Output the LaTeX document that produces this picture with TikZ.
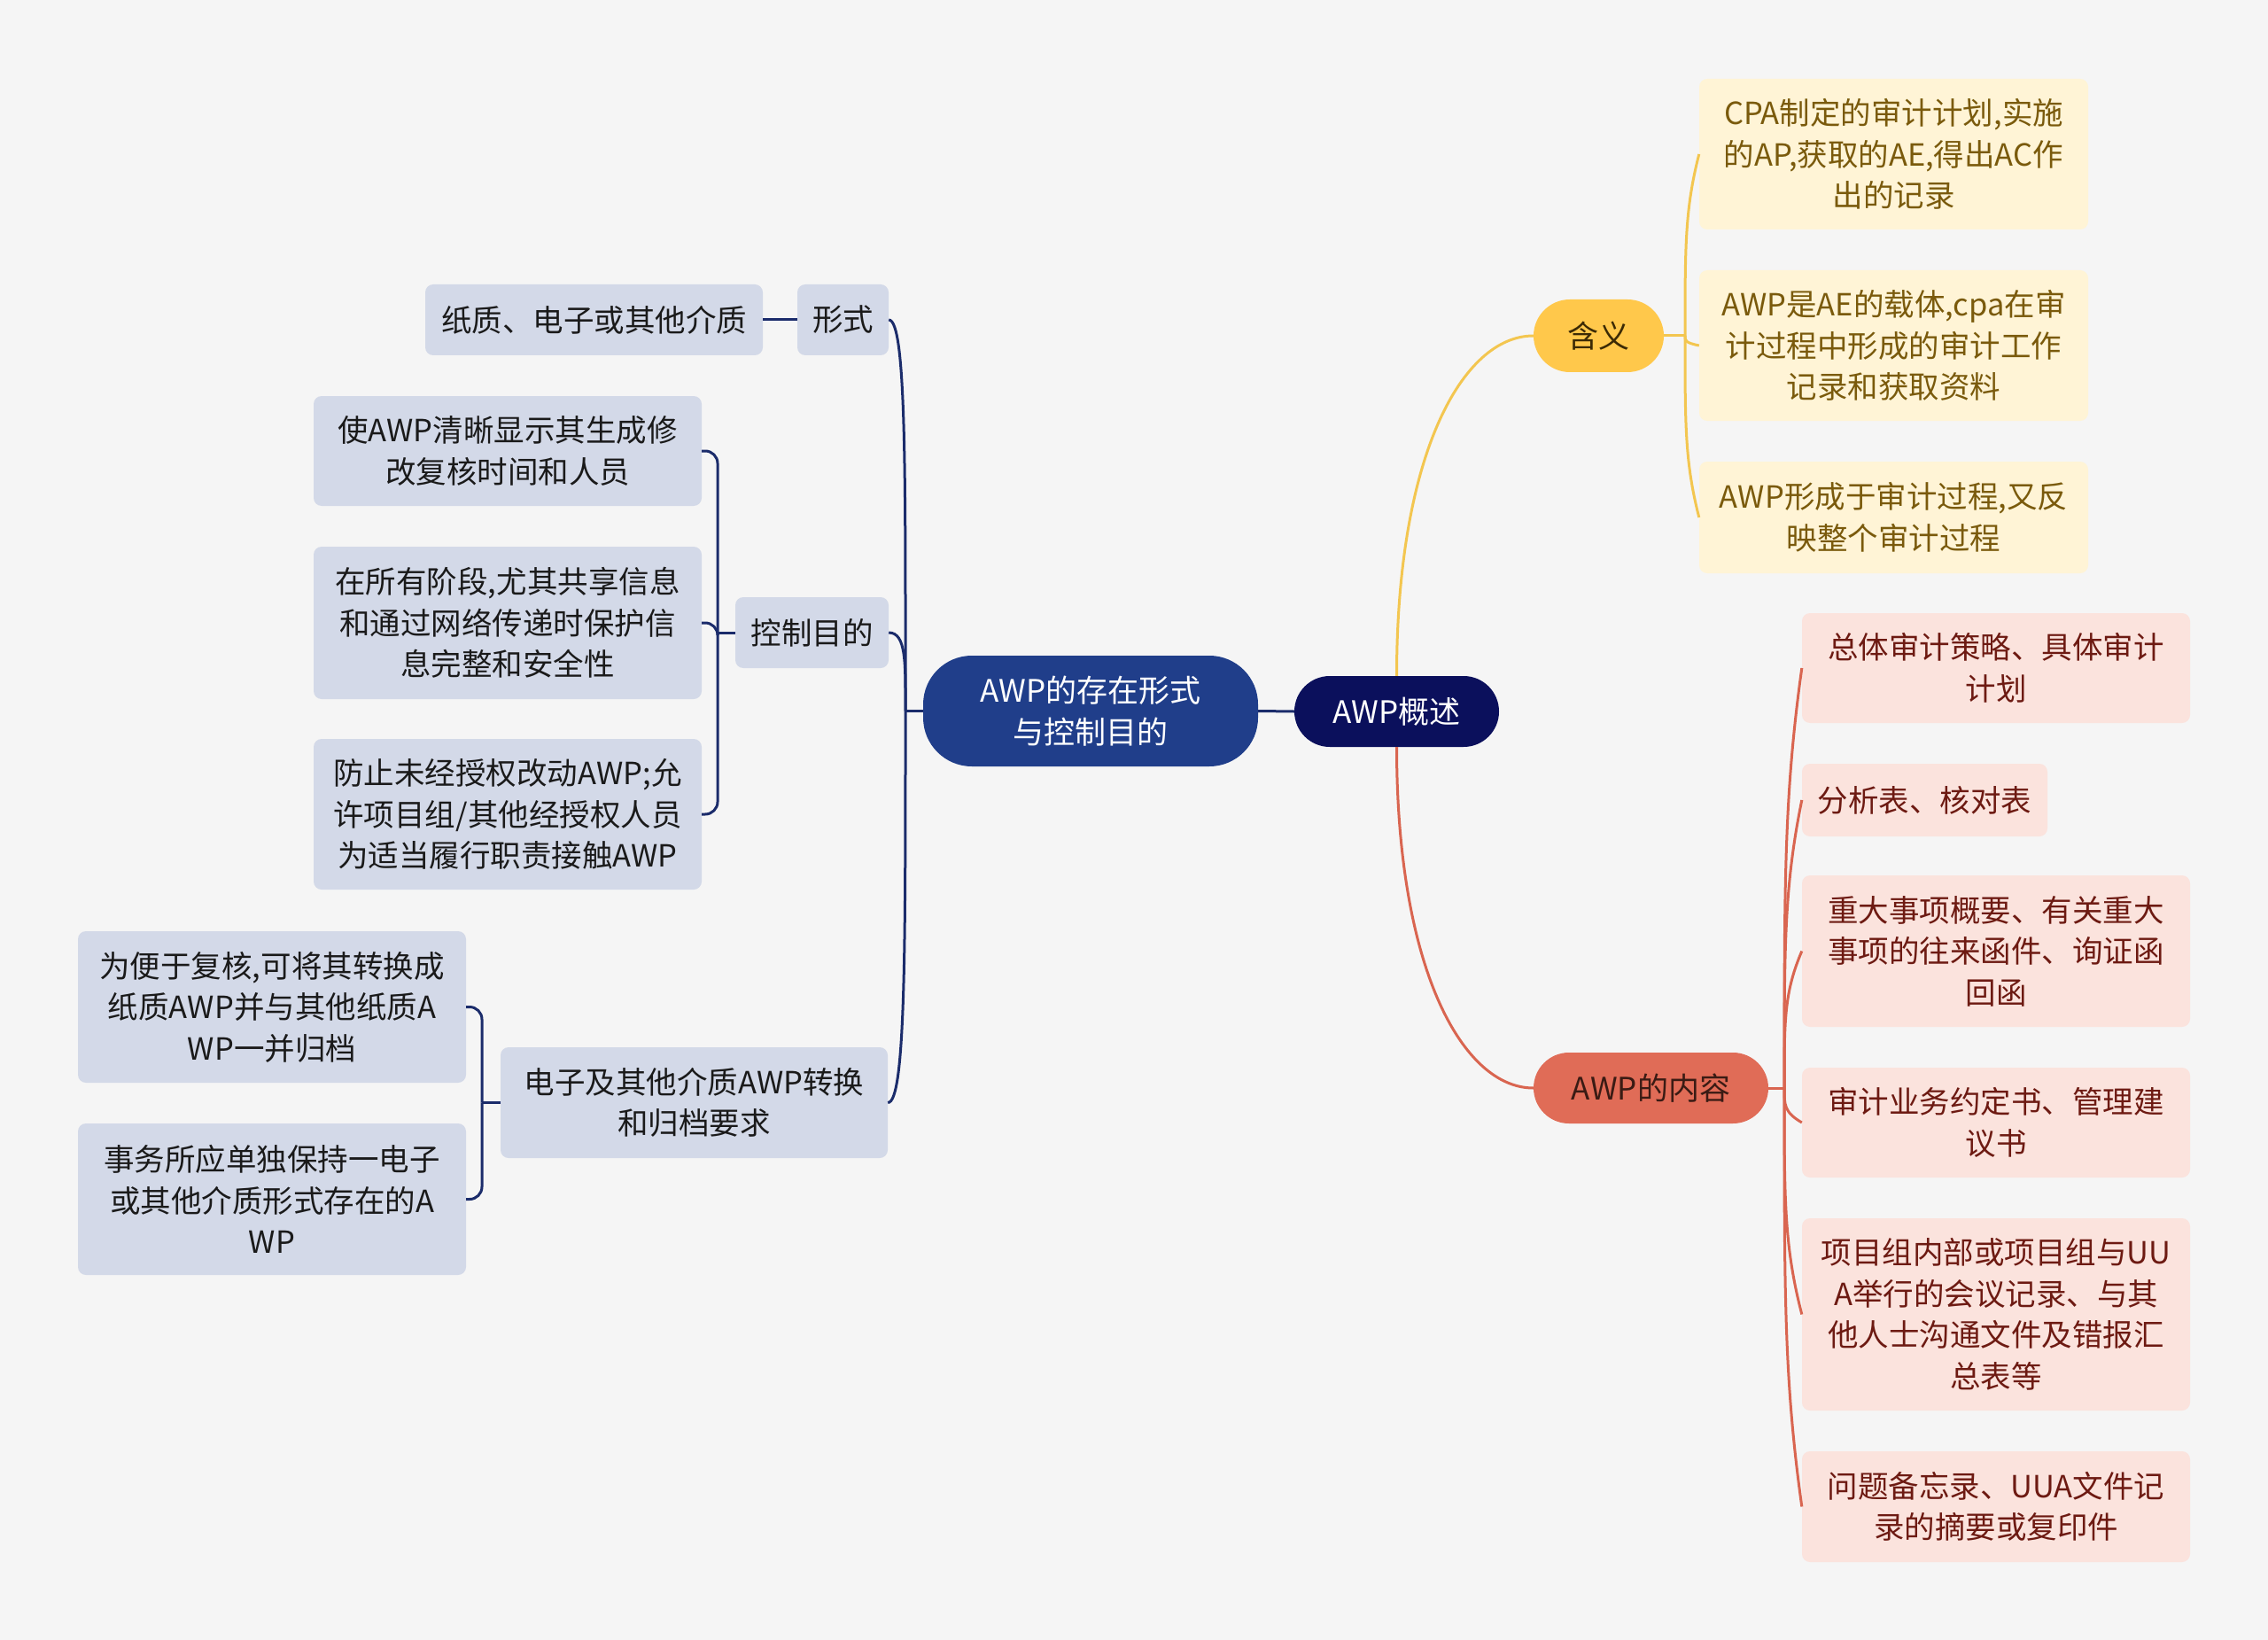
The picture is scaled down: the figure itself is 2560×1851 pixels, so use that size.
\documentclass[tikz,border=0pt]{standalone}
\usepackage{fontspec}
\setmainfont{Noto Sans CJK SC}
\usetikzlibrary{calc}
\definecolor{bgc}{HTML}{F5F5F5}
\definecolor{rootc}{HTML}{0B105C}
\definecolor{mainc}{HTML}{203E8A}
\definecolor{navyline}{HTML}{1B2C6B}
\definecolor{subc}{HTML}{D3D9E8}
\definecolor{subtext}{HTML}{1A1A1A}
\definecolor{ylwc}{HTML}{FFC84B}
\definecolor{ylwtextd}{HTML}{3B2A05}
\definecolor{ylwline}{HTML}{F3C650}
\definecolor{ylwfill}{HTML}{FFF4D6}
\definecolor{ylwtext}{HTML}{7A5A0C}
\definecolor{coralc}{HTML}{E06C57}
\definecolor{coraltext}{HTML}{3A1B14}
\definecolor{redline}{HTML}{D96550}
\definecolor{redfill}{HTML}{FBE3DD}
\definecolor{redtext}{HTML}{6D1A12}
\tikzset{
  box/.style={rectangle, rounded corners=9pt, inner sep=0pt, align=center,
    font=\fontsize{34.5}{46.5}\selectfont},
  pill/.style={box, font=\fontsize{35}{46.5}\selectfont},
  leftbox/.style={box, fill=subc, text=subtext},
  ylwbox/.style={box, fill=ylwfill, text=ylwtext},
  redbox/.style={box, fill=redfill, text=redtext},
  navy/.style={draw=navyline, line width=3pt},
  ylink/.style={draw=ylwline, line width=3pt},
  rlink/.style={draw=redline, line width=3pt},
}
\begin{document}
\begin{tikzpicture}[x=1pt,y=-1pt]
\path[fill=bgc] (0,0) rectangle (2560,1851);
\useasboundingbox (0,0) rectangle (2560,1851);

% central nodes
\node[pill, fill=rootc, text=white, rounded corners=40pt, minimum width=231pt, minimum height=80pt] (root) at (1576.5,803) {AWP概述};
\node[pill, fill=mainc, text=white, rounded corners=55pt, minimum width=378pt, minimum height=125pt] (main) at (1231,802.5) {AWP的存在形式\\与控制目的};
\node[pill, fill=ylwc, text=ylwtextd, rounded corners=41pt, minimum width=147pt, minimum height=82pt] (hanyi) at (1804.5,379) {含义};
\node[pill, fill=coralc, text=coraltext, rounded corners=40pt, minimum width=265pt, minimum height=80pt] (neirong) at (1863.5,1228) {AWP的内容};

% yellow children
\node[ylwbox, minimum width=439pt, minimum height=170pt] (y1) at (2137.5,174) {CPA制定的审计计划,实施\\的AP,获取的AE,得出AC作\\出的记录};
\node[ylwbox, minimum width=439pt, minimum height=170pt] (y2) at (2137.5,390) {AWP是AE的载体,cpa在审\\计过程中形成的审计工作\\记录和获取资料};
\node[ylwbox, minimum width=439pt, minimum height=126pt] (y3) at (2137.5,584) {AWP形成于审计过程,又反\\映整个审计过程};

% red children
\node[redbox, minimum width=438pt, minimum height=124pt] (r1) at (2253,754) {总体审计策略、具体审计\\计划};
\node[redbox, minimum width=277pt, minimum height=82pt] (r2) at (2172.5,903) {分析表、核对表};
\node[redbox, minimum width=438pt, minimum height=171pt] (r3) at (2253,1073.5) {重大事项概要、有关重大\\事项的往来函件、询证函\\回函};
\node[redbox, minimum width=438pt, minimum height=124pt] (r4) at (2253,1267) {审计业务约定书、管理建\\议书};
\node[redbox, minimum width=438pt, minimum height=217pt] (r5) at (2253,1483.5) {项目组内部或项目组与UU\\A举行的会议记录、与其\\他人士沟通文件及错报汇\\总表等};
\node[redbox, minimum width=438pt, minimum height=125pt] (r6) at (2253,1700.5) {问题备忘录、UUA文件记\\录的摘要或复印件};

% left side
\node[leftbox, minimum width=103pt, minimum height=80pt] (xingshi) at (951.5,361) {形式};
\node[leftbox, minimum width=173pt, minimum height=80pt] (kongzhi) at (916.5,714) {控制目的};
\node[leftbox, minimum width=437pt, minimum height=125pt] (dianzi) at (783.5,1244.5) {电子及其他介质AWP转换\\和归档要求};
\node[leftbox, minimum width=381pt, minimum height=80pt] (zhizhi) at (670.5,361) {纸质、电子或其他介质};
\node[leftbox, minimum width=438pt, minimum height=124pt] (c1) at (573,509) {使AWP清晰显示其生成修\\改复核时间和人员};
\node[leftbox, minimum width=438pt, minimum height=172pt] (c2) at (573,703) {在所有阶段,尤其共享信息\\和通过网络传递时保护信\\息完整和安全性};
\node[leftbox, minimum width=438pt, minimum height=170pt] (c3) at (573,919) {防止未经授权改动AWP;允\\许项目组/其他经授权人员\\为适当履行职责接触AWP};
\node[leftbox, minimum width=438pt, minimum height=171pt] (e1) at (307,1136.5) {为便于复核,可将其转换成\\纸质AWP并与其他纸质A\\WP一并归档};
\node[leftbox, minimum width=438pt, minimum height=171pt] (e2) at (307,1353.5) {事务所应单独保持一电子\\或其他介质形式存在的A\\WP};

% junction coordinates
\coordinate (jy) at (1902,379);
\coordinate (jr) at (2014,1228);
\coordinate (jm) at (1022,802.5);
\coordinate (jk) at (810,714);
\coordinate (jd) at (544,1244.5);

% connectors
\draw[navy] (main.east) -- (root.west);
\draw[ylink] (root.north) .. controls +(0,-250) and +(-80,0) .. (hanyi.west);
\draw[rlink] (root.south) .. controls +(0,250) and +(-80,0) .. (neirong.west);

\draw[ylink] (hanyi.east) -- (jy);
\foreach \c in {y1,y2,y3}
  \draw[ylink] (jy) .. controls ($(jy)!0.5!(jy|-\c.west)$) and ($(jy|-\c.west)!0.3!(jy)$) .. (\c.west);

\draw[rlink] (neirong.east) -- (jr);
\foreach \c in {r1,r2,r3,r4,r5,r6}
  \draw[rlink] (jr) .. controls ($(jr)!0.5!(jr|-\c.west)$) and ($(jr|-\c.west)!0.3!(jr)$) .. (\c.west);

\draw[navy] (main.west) -- (jm);
\foreach \c in {xingshi,kongzhi,dianzi}
  \draw[navy] (jm) .. controls ($(jm)!0.6!(jm|-\c.east)$) and ($(\c.east)+(20,0)$) .. (\c.east);
\draw[navy] (xingshi.west) -- (zhizhi.east);

\draw[navy] (kongzhi.west) -- (jk);
\foreach \c in {c1,c2,c3} \draw[navy, rounded corners=14pt] (jk) |- (\c.east);

\draw[navy] (dianzi.west) -- (jd);
\foreach \c in {e1,e2} \draw[navy, rounded corners=14pt] (jd) |- (\c.east);
\end{tikzpicture}
\end{document}
